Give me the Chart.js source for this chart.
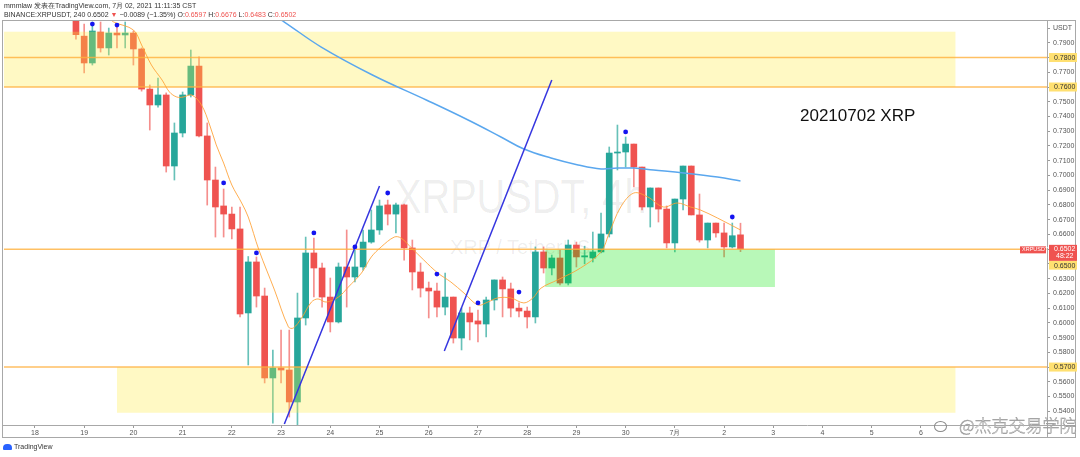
<!DOCTYPE html>
<html><head><meta charset="utf-8">
<script src="https://cdn.jsdelivr.net/npm/chart.js@4.4.0/dist/chart.umd.min.js"></script>
<style>
html,body{margin:0;padding:0;background:#fff;}
#wrap{position:relative;width:1080px;height:457px;overflow:hidden;font-family:"Liberation Sans",Arial,sans-serif;}
#c{position:absolute;left:0;top:0;z-index:2;}
.wm{position:absolute;z-index:1;color:rgba(0,0,0,0.075);white-space:nowrap;transform-origin:0 0;}
.top{position:absolute;z-index:3;white-space:nowrap;font-size:7px;line-height:8px;color:#333;}
.red{color:#ef5350;}
#note{position:absolute;z-index:3;left:800px;top:106px;font-size:17px;line-height:20px;color:#111;white-space:nowrap;}
#tv{position:absolute;z-index:3;left:3px;top:443px;font-size:7px;line-height:8px;color:#333;white-space:nowrap;}
#tv span.ic{display:inline-block;width:9px;height:6px;background:#2962ff;border-radius:4px 4px 1px 1px;margin-right:2px;vertical-align:-1px;}
#wb{position:absolute;z-index:4;left:934px;top:416px;font-size:17px;line-height:18px;white-space:nowrap;color:rgba(255,255,255,0.9);-webkit-text-stroke:0.45px #8a8a8a;font-family:"Noto Sans CJK SC",sans-serif;font-weight:300;}
#wb span.ic{display:inline-block;width:11px;height:9px;border:1px solid #8a8a8a;border-radius:50%;margin-right:12px;vertical-align:0px;}
</style></head>
<body><div id="wrap">
<div class="wm" style="left:395px;top:170px;font-size:49px;line-height:52px;transform:scaleX(0.81);">XRPUSDT, 4h</div>
<div class="wm" style="left:450px;top:236px;font-size:20px;line-height:22px;">XRP / TetherUS</div>
<canvas id="c" width="1080" height="457"></canvas>
<div class="top" style="left:4px;top:2px;">mmmlaw 发表在TradingView.com, 7月 02, 2021 11:11:35 CST</div>
<div class="top" style="left:4px;top:11px;">BINANCE:XRPUSDT, 240 0.6502 <span class="red">▼</span> −0.0089 (−1.35%) O:<span class="red">0.6597</span> H:<span class="red">0.6676</span> L:<span class="red">0.6483</span> C:<span class="red">0.6502</span></div>
<div id="note">20210702 XRP</div>
<div id="tv"><span class="ic"></span>TradingView</div>
<div id="wb"><span class="ic"></span>@杰克交易学院</div>
</div>
<script>
// ---- data (4h candles, index 0 = 2021-06-18 00:00) ----
const firstCandle = 5;
const opens = [
 0.808,0.7945,0.7763,0.7973,0.7865,0.7966,0.7953,0.7966,0.7858,0.7586,
 0.7478,0.7546,0.7064,0.7288,0.7546,0.7742,0.7268,0.6969,0.6793,0.6738,
 0.6637,0.6067,0.6413,0.6182,0.5626,0.5694,0.5680,0.5463,0.6033,0.6474,
 0.6372,0.6175,0.6006,0.6379,0.6311,0.6379,0.6548,0.6630,0.6800,0.6738,
 0.6800,0.6508,0.6345,0.6236,0.6216,0.6107,0.6175,0.5897,0.6067,0.6013,
 0.5992,0.6155,0.6291,0.6230,0.6100,0.6080,0.6040,0.6481,0.6372,0.6440,
 0.6270,0.6528,0.6447,0.6440,0.6481,0.6603,0.7152,0.7159,0.7213,0.7057,
 0.6786,0.6915,0.6772,0.6542,0.6840,0.7064,0.6732,0.6562,0.6677,0.6610,
 0.6515,0.6597];
const highs = [
 0.812,0.8027,0.8041,0.8041,0.8000,0.8014,0.8041,0.7980,0.7865,0.7614,
 0.7661,0.7560,0.7356,0.7566,0.7851,0.7804,0.7356,0.7057,0.6908,0.6786,
 0.6786,0.6450,0.6447,0.6236,0.5816,0.5951,0.5951,0.6202,0.6582,0.6575,
 0.6406,0.6304,0.6406,0.6630,0.6494,0.6630,0.6766,0.6833,0.6833,0.6813,
 0.6806,0.6562,0.6406,0.6277,0.6270,0.6338,0.6175,0.6100,0.6107,0.6087,
 0.6175,0.6291,0.6311,0.6270,0.6135,0.6107,0.6515,0.6515,0.6460,0.6494,
 0.6562,0.6548,0.6520,0.6616,0.6745,0.7193,0.7342,0.7261,0.7213,0.7057,
 0.6915,0.6915,0.6793,0.6840,0.7064,0.7064,0.6874,0.6677,0.6677,0.6677,
 0.6677,0.6676];
const lows = [
 0.7925,0.7695,0.7749,0.7837,0.7817,0.7865,0.7865,0.7749,0.7572,0.7308,
 0.7464,0.7023,0.6969,0.7261,0.7532,0.7261,0.6799,0.6582,0.6582,0.6569,
 0.6040,0.5714,0.6107,0.5592,0.5320,0.5592,0.5361,0.5307,0.5985,0.6175,
 0.6107,0.5938,0.5999,0.6107,0.6277,0.6358,0.6540,0.6600,0.6664,0.6610,
 0.6426,0.6223,0.6175,0.6033,0.6040,0.6053,0.5863,0.5816,0.5884,0.5870,
 0.5904,0.6087,0.6040,0.6040,0.6040,0.5965,0.5999,0.6338,0.6325,0.6257,
 0.6257,0.6379,0.6400,0.6413,0.6474,0.6582,0.7037,0.7057,0.6922,0.6766,
 0.6650,0.6684,0.6508,0.6481,0.6766,0.6732,0.6548,0.6508,0.6582,0.6447,
 0.6508,0.6483];
const closes = [
 0.7955,0.7763,0.7980,0.7865,0.7966,0.7953,0.7966,0.7858,0.7586,0.7478,
 0.7546,0.7064,0.7288,0.7546,0.7742,0.7268,0.6969,0.6786,0.6738,0.6637,
 0.6060,0.6413,0.6182,0.5626,0.5694,0.5680,0.5463,0.6033,0.6474,0.6372,
 0.6175,0.6006,0.6379,0.6311,0.6379,0.6548,0.6630,0.6793,0.6738,0.6800,
 0.6508,0.6345,0.6236,0.6216,0.6107,0.6175,0.5897,0.6067,0.6006,0.5992,
 0.6155,0.6291,0.6230,0.6100,0.6080,0.6040,0.6481,0.6372,0.6440,0.6270,
 0.6528,0.6447,0.6455,0.6481,0.6603,0.7152,0.7159,0.7213,0.7057,0.6786,
 0.6915,0.6772,0.6542,0.6840,0.7064,0.6732,0.6562,0.6677,0.6610,0.6515,
 0.6591,0.6502];

// short EMA (orange)
const emaIdx = [8.8,9.6,12.0,13.0,14.2,15.5,16.4,17.3,18.1,19.1,20.3,21.3,22.1,23.0,24.0,25.2,26.0,27.3,29.2,30.9,31.5,32.5,33.7,34.5,35.5,37.0,38.2,39.8,41.0,42.2,43.8,44.6,45.9,47.4,49.1,50.7,52.3,54.0,55.2,56.4,58.0,59.6,60.7,61.7,63.7,66.5,69.0,70.0,71.4,73.0,74.7,76.6,78.3,79.9,81.1,83.2,86.0];
const emaVal = [0.8075,0.8041,0.7987,0.7885,0.7749,0.7647,0.7566,0.7532,0.7532,0.7546,0.7478,0.7342,0.7207,0.7084,0.6935,0.6813,0.6718,0.6494,0.6223,0.5972,0.5965,0.6033,0.6141,0.6162,0.6141,0.6175,0.6243,0.6338,0.6447,0.6515,0.6582,0.6576,0.6508,0.6426,0.6338,0.6277,0.6202,0.6121,0.6141,0.6169,0.6169,0.6135,0.6169,0.6236,0.6291,0.6372,0.6481,0.6610,0.6786,0.6881,0.6854,0.6786,0.6813,0.6786,0.6766,0.6711,0.6630];
// long MA (blue)
const maIdx = [29.4,30.4,34.9,41.2,47.7,52.8,56.8,59.6,62.9,66.2,69.0,71.0,73.0,75.4,79.1,83.2,86.0];
const maVal = [0.8075,0.8041,0.7871,0.7680,0.7512,0.7376,0.7261,0.7179,0.7118,0.7071,0.7044,0.7050,0.7050,0.7037,0.7017,0.6989,0.6962];
// fractal signal dots
const signalIdx = [7,10,23,27,34,39,43,49,54,59,72,85];
const signalVal = [0.8027,0.8020,0.6949,0.6474,0.6610,0.6515,0.6881,0.6331,0.6135,0.6209,0.7295,0.6718];
// trend lines [idx, price]
const trend1Idx = [30.4,42.0], trend1Val = [0.5314,0.6928];
const trend2Idx = [49.9,63.0], trend2Val = [0.5809,0.7647];
// zones
const zoneFrom = [-3.771,10.0,62.2];
const zoneTo   = [112.2,112.2,90.2];
const zoneLow  = [0.76,0.539,0.6243];
const zoneHigh = [0.7975,0.57,0.65];
const zoneKind = ['y','y','g'];
const levels = [0.78,0.76,0.65,0.57];
// axes
const dayLabels = ['18','19','20','21','22','23','24','25','26','27','28','29','30','7月','2','3','4','5','6'];
const yTicks = [0.54,0.55,0.56,0.57,0.58,0.59,0.60,0.61,0.62,0.63,0.64,0.65,0.66,0.67,0.68,0.69,0.70,0.71,0.72,0.73,0.74,0.75,0.76,0.77,0.78,0.79,0.80];
const countdown = '48:22';

const RED='#ef5350', TEAL='#26a69a';
const idx = opens.map((_,k)=>firstCandle+k);
const isUp = k => closes[k] >= opens[k];

const overlay = {
  id:'overlay',
  afterDatasetDraw(chart,args){
    if(args.index!==1) return;
    const {ctx,chartArea:a,scales:{x,y}}=chart;
    ctx.save();
    ctx.beginPath();ctx.rect(a.left,a.top,a.right-a.left,a.bottom-a.top);ctx.clip();
    zoneFrom.forEach((f,k)=>{
      const x0=x.getPixelForValue(f), x1=x.getPixelForValue(zoneTo[k]);
      const y0=y.getPixelForValue(zoneHigh[k]), y1=y.getPixelForValue(zoneLow[k]);
      ctx.fillStyle = zoneKind[k]==='y' ? 'rgba(255,235,59,0.30)' : 'rgba(0,230,0,0.28)';
      ctx.fillRect(x0,y0,x1-x0,y1-y0);
    });
    ctx.strokeStyle='rgba(255,176,60,0.8)';ctx.lineWidth=1.5;
    levels.forEach(v=>{const py=y.getPixelForValue(v);ctx.beginPath();ctx.moveTo(a.left,py);ctx.lineTo(a.right,py);ctx.stroke();});
    ctx.restore();
  },
  afterDraw(chart){
    const {ctx,chartArea:a,scales:{y}}=chart;
    ctx.save();
    ctx.strokeStyle='#a8a8a8';ctx.lineWidth=1;
    ctx.strokeRect(2.5,a.top-0.5,1073,438-a.top);
    ctx.beginPath();ctx.moveTo(2,a.bottom+0.5);ctx.lineTo(1076,a.bottom+0.5);ctx.moveTo(a.right+0.5,a.top);ctx.lineTo(a.right+0.5,438);ctx.stroke();
    ctx.font='7px "Liberation Sans"';ctx.textBaseline='middle';
    levels.forEach(v=>{
      let py=y.getPixelForValue(v); if(v===0.65) py+=16;
      ctx.fillStyle='#ffe071';ctx.fillRect(a.right+2,py-4.5,28,9);
      ctx.fillStyle='#333';ctx.fillText(v.toFixed(4),a.right+7,py+0.5);
    });
    const last=closes[closes.length-1];
    const pl=y.getPixelForValue(last);
    ctx.fillStyle=RED;
    ctx.fillRect(a.right+2,pl-4,28,16);
    ctx.fillRect(a.right-27,pl-2.5,26,7);
    ctx.fillStyle='#fff';
    ctx.fillText(last.toFixed(4),a.right+7,pl+0.5);
    ctx.fillText(countdown,a.right+9,pl+7.5);
    ctx.font='5.5px "Liberation Sans"';
    ctx.fillText('XRPUSDT',a.right-25,pl+1);
    ctx.restore();
  }
};

Chart.defaults.font.family='"Liberation Sans", Arial, sans-serif';
new Chart(document.getElementById('c'),{
  type:'bar',
  data:{datasets:[
    {type:'bar',label:'wick',data:idx.map((v,k)=>({x:v,y:[lows[k],highs[k]]})),
     backgroundColor:idx.map((_,k)=>isUp(k)?'rgba(38,166,154,0.7)':'rgba(239,83,80,0.65)'),
     barThickness:1,grouped:false,borderWidth:0,order:5},
    {type:'bar',label:'body',data:idx.map((v,k)=>({x:v,y:[opens[k],closes[k]]})),
     backgroundColor:idx.map((_,k)=>isUp(k)?TEAL:RED),
     barThickness:6,grouped:false,borderWidth:0,minBarLength:1,order:4},
    {type:'line',label:'ema',data:emaIdx.map((v,k)=>({x:v,y:emaVal[k]})),
     borderColor:'rgba(255,160,50,0.85)',borderWidth:1,pointRadius:0,tension:0.35,order:3},
    {type:'line',label:'ma',data:maIdx.map((v,k)=>({x:v,y:maVal[k]})),
     borderColor:'#5aa7ee',borderWidth:1.5,pointRadius:0,tension:0.4,order:3},
    {type:'line',label:'t1',data:trend1Idx.map((v,k)=>({x:v,y:trend1Val[k]})),
     borderColor:'#3535e0',borderWidth:1.5,pointRadius:0,order:2},
    {type:'line',label:'t2',data:trend2Idx.map((v,k)=>({x:v,y:trend2Val[k]})),
     borderColor:'#3535e0',borderWidth:1.5,pointRadius:0,order:2},
    {type:'scatter',label:'sig',data:signalIdx.map((v,k)=>({x:v,y:signalVal[k]})),
     backgroundColor:'#1414f0',borderWidth:0,pointRadius:2.4,order:1}
  ]},
  options:{
    responsive:false,animation:false,devicePixelRatio:1,
    layout:{padding:{left:2,top:21,right:4,bottom:19}},
    plugins:{legend:{display:false},tooltip:{enabled:false}},
    scales:{
      x:{type:'linear',min:-3.771,max:123.36,offset:false,
        afterBuildTicks:s=>{s.ticks=dayLabels.map((_,k)=>({value:k*6}));},
        afterFit:s=>{s.height=13;},
        ticks:{font:{size:7},color:'#555',padding:1,maxRotation:0,autoSkip:false,
          callback:v=>dayLabels[Math.round(v/6)]},
        grid:{drawOnChartArea:false,tickLength:3,color:'#999',offset:false},
        border:{display:false}},
      y:{type:'linear',position:'right',min:0.53069,max:0.80478,
        afterBuildTicks:s=>{s.ticks=yTicks.map(v=>({value:v}));},
        afterFit:s=>{s.width=29;},
        ticks:{font:{size:7},color:'#555',padding:3,autoSkip:false,
          callback:v=>Math.abs(v-0.80)<1e-6?'USDT':v.toFixed(4)},
        grid:{drawOnChartArea:false,tickLength:3,color:'#999'},
        border:{display:false}}
    }
  },
  plugins:[overlay]
});
</script>
</body></html>
